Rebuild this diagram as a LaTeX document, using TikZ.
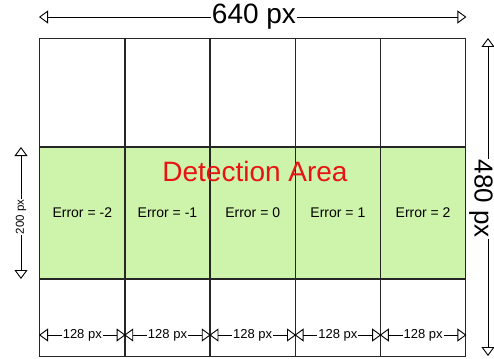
\documentclass[tikz,border=0pt]{standalone}
\usepackage{fontspec}
\setmainfont{Liberation Sans}
\usetikzlibrary{arrows.meta}
\definecolor{areagreen}{RGB}{206,243,170}
\definecolor{dred}{RGB}{232,20,20}
\begin{document}
\begin{tikzpicture}[x=1pt,y=-1pt,
  dimline/.style={{Triangle[open,length=9pt,width=13pt]}-{Triangle[open,length=9pt,width=13pt]}, line width=0.9pt, black},
  gridline/.style={line width=1.4pt, black!85},
  cell/.style={draw=black!85, line width=1.4pt, minimum width=85.2pt, minimum height=318pt, inner sep=0pt, anchor=north west},
  errlabel/.style={font=\fontsize{14}{16}\selectfont},
  smalllabel/.style={font=\fontsize{13}{15}\selectfont, fill=white, inner sep=1pt},
  biglabel/.style={font=\fontsize{28}{32}\selectfont, fill=white, inner sep=1pt}]
\useasboundingbox (0,0) rectangle (494,358);
% green band
\fill[areagreen] (39,147) rectangle (465,279);
% columns
\foreach \i in {0,...,4} {
  \node[cell] (c\i) at ({39+85.2*\i},38) {};
}
\draw[gridline] (c0.west |- 0,147) coordinate (gl) -- (c4.east |- 0,147) coordinate (gr);
\draw[gridline] (c0.west |- 0,279) coordinate (bl) -- (c4.east |- 0,279) coordinate (br);
% error labels
\node[errlabel] (e0) at (c0.center |- 0,213) {Error = -2};
\node[errlabel] (e1) at (c1.center |- 0,213) {Error = -1};
\node[errlabel] (e2) at (c2.center |- 0,213) {Error = 0};
\node[errlabel] (e3) at (c3.center |- 0,213) {Error = 1};
\node[errlabel] (e4) at (c4.center |- 0,213) {Error = 2};
% detection area
\node[font=\fontsize{28}{32}\selectfont, text=dred] (det) at (255,171) {Detection Area};
% top dimension
\coordinate (tl) at (c0.west |- 0,17);
\coordinate (tr) at (c4.east |- 0,17);
\draw[dimline] (tl) -- node[biglabel, pos=0.503] (w) {640 px} (tr);
% right dimension
\coordinate (rt) at (488,38);
\coordinate (rb) at (488,356);
\draw[dimline] (rt) -- (rb);
\node[fill=white, inner sep=0pt, inner xsep=1pt, text height=19pt, text depth=0pt, rotate=-90, font=\fontsize{26}{30}\selectfont] (h) at (484,199) {480 px};
% left dimension
\coordinate (lt) at (21,147);
\coordinate (lb) at (21,279);
\draw[dimline] (lt) -- node[smalllabel, rotate=90, font=\fontsize{11.5}{13}\selectfont, pos=0.53] (hh) {200 px} (lb);
% bottom dimensions
\foreach \i in {0,...,4} {
  \coordinate (bw\i) at (c\i.west |- 0,335);
  \coordinate (be\i) at (c\i.east |- 0,335);
  \draw[dimline] (bw\i) -- node[smalllabel] (bl\i) {128 px} (be\i);
}
\end{tikzpicture}
\end{document}
